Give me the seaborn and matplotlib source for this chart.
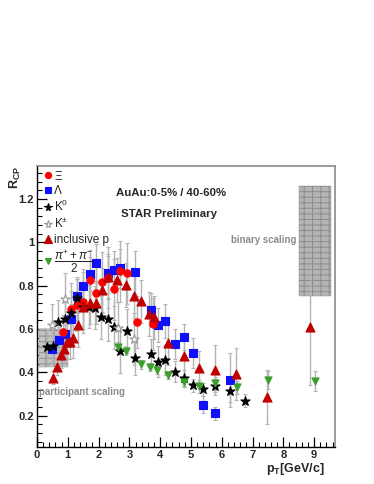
import matplotlib.pyplot as plt
import seaborn as sns
from matplotlib.patches import Rectangle
from matplotlib.lines import Line2D
from matplotlib.ticker import MultipleLocator, FixedLocator, FuncFormatter

# R_CP values (x = pT in GeV/c)
xi_pt = [0.85, 1.10, 1.31, 1.50, 1.71, 1.92, 2.11, 2.32, 2.51, 2.70, 2.91, 3.26, 3.77]
xi_r = [0.585, 0.69, 0.71, 0.723, 0.826, 0.765, 0.815, 0.837, 0.783, 0.866, 0.857, 0.63, 0.624]
xi_err = [0.08, 0.12, 0.12, 0.14, 0.14, 0.14, 0.14, 0.14, 0.14, 0.14, 0.14, 0.12, 0.12]

lam_pt = [0.50, 0.70, 0.90, 1.09, 1.31, 1.50, 1.71, 1.91, 2.32, 2.51, 2.70, 3.18,
          3.71, 3.92, 4.16, 4.47, 4.76, 5.07, 5.38, 5.77, 6.28]
lam_r = [0.506, 0.548, 0.575, 0.645, 0.752, 0.798, 0.853, 0.903, 0.857, 0.872, 0.88, 0.862,
         0.687, 0.618, 0.637, 0.53, 0.562, 0.49, 0.25, 0.212, 0.366]
lam_err = [0.06, 0.06, 0.06, 0.07, 0.08, 0.08, 0.08, 0.09, 0.09, 0.09, 0.09, 0.1,
           0.08, 0.08, 0.08, 0.07, 0.06, 0.07, 0.04, 0.03, 0.125]

k0_pt = [0.31, 0.51, 0.69, 0.90, 1.10, 1.31, 1.50, 1.70, 1.89, 2.09, 2.30, 2.50, 2.69,
         2.91, 3.18, 3.71, 3.92, 4.16, 4.47, 4.76, 5.07, 5.38, 5.77, 6.28, 6.77]
k0_r = [0.515, 0.521, 0.634, 0.645, 0.675, 0.742, 0.70, 0.703, 0.698, 0.654, 0.645, 0.608, 0.498,
        0.591, 0.466, 0.483, 0.449, 0.457, 0.403, 0.372, 0.339, 0.322, 0.337, 0.314, 0.269]
k0_err = [0.08, 0.08, 0.1, 0.1, 0.1, 0.1, 0.1, 0.1, 0.1, 0.1, 0.1, 0.1, 0.1,
          0.1, 0.08, 0.07, 0.07, 0.07, 0.05, 0.04, 0.03, 0.03, 0.03, 0.05, 0.03]

kch_pt = [0.48, 0.91, 2.64, 3.14]
kch_r = [0.616, 0.737, 0.605, 0.553]
kch_err = [0.1, 0.12, 0.12, 0.12]

p_pt = [0.53, 0.66, 0.77, 0.87, 0.96, 1.07, 1.18, 1.32, 1.50, 1.71, 1.91, 2.11, 2.32,
        2.61, 2.89, 3.15, 3.37, 3.65, 3.81, 4.24, 4.77, 5.26, 5.77, 6.46, 7.48, 8.86]
p_r = [0.375, 0.426, 0.48, 0.506, 0.541, 0.541, 0.557, 0.618, 0.70, 0.721, 0.721, 0.78, 0.838,
       0.826, 0.803, 0.752, 0.728, 0.669, 0.654, 0.534, 0.475, 0.418, 0.41, 0.392, 0.287, 0.61]
p_err = [0.03, 0.04, 0.06, 0.07, 0.08, 0.08, 0.09, 0.1, 0.1, 0.1, 0.1, 0.1, 0.1,
         0.1, 0.1, 0.1, 0.1, 0.1, 0.1, 0.1, 0.1, 0.08, 0.115, 0.12, 0.125, 0.27]

pi_pt = [2.64, 2.89, 3.38, 3.66, 3.89, 4.26, 4.76, 5.26, 5.77, 6.51, 7.51, 9.03]
pi_r = [0.518, 0.50, 0.436, 0.424, 0.41, 0.388, 0.357, 0.336, 0.349, 0.331, 0.365, 0.36]
pi_err = [0.02, 0.02, 0.02, 0.02, 0.02, 0.02, 0.02, 0.03, 0.03, 0.03, 0.04, 0.045]

# scaling bands: (x0, x1, y0, y1)
participant_band = (0.05, 1.0, 0.425, 0.6)
binary_band = (8.5, 9.55, 0.75, 1.26)

sns.set_style('ticks')
plt.rcParams['font.family'] = ['Liberation Sans', 'DejaVu Sans']
plt.rcParams['mathtext.fontset'] = 'custom'
plt.rcParams['mathtext.rm'] = 'Liberation Sans'
plt.rcParams['mathtext.it'] = 'Liberation Sans:italic'
plt.rcParams['mathtext.bf'] = 'Liberation Sans:bold'
plt.rcParams['hatch.linewidth'] = 0.7

fig = plt.figure(figsize=(3.74, 4.84), dpi=100)
ax = fig.add_axes([0.0989, 0.0764, 0.797, 0.5806])

for band, face in [(participant_band, '#c4c4c4'), (binary_band, '#b4b4b4')]:
    x0, x1, y0, y1 = band
    ax.add_patch(Rectangle((x0, y0), x1 - x0, y1 - y0, facecolor=face,
                           edgecolor='none', linewidth=0, zorder=1))
    ax.add_patch(Rectangle((x0, y0), x1 - x0, y1 - y0, facecolor='none',
                           edgecolor='#8c8c8c', hatch='---||', linewidth=0.3, zorder=1))

series = [
    (lam_pt, lam_r, lam_err, 's', '#1010ff', '#1010ff', 28, 'Λ'),
    (xi_pt, xi_r, xi_err, 'o', '#ff0000', '#ff0000', 28, 'Ξ'),
    (k0_pt, k0_r, k0_err, '*', 'black', 'black', 48, r'K$^{0}$'),
    (kch_pt, kch_r, kch_err, '*', 'white', '#9a9a9a', 48, r'K$^{\pm}$'),
    (p_pt, p_r, p_err, '^', '#c00000', '#c00000', 42, 'inclusive p'),
    (pi_pt, pi_r, pi_err, 'v', '#3aa02a', '#3aa02a', 26, r'$\dfrac{\pi^{+}+\pi^{-}}{2}$'),
]

for pt, r, err, mk, fc, ec, size, lab in series:
    ax.errorbar(pt, r, yerr=err, fmt='none', ecolor='#b4b4b4', elinewidth=1,
                capsize=1.5, capthick=0.8, zorder=2)
for pt, r, err, mk, fc, ec, size, lab in series:
    sns.scatterplot(x=pt, y=r, marker=mk, color=fc, edgecolor=ec, s=size,
                    linewidth=0.8, ax=ax, zorder=3, legend=False)

ax.set_xlim(0, 9.68)
ax.set_ylim(0.055, 1.352)
ax.xaxis.set_major_locator(MultipleLocator(1))
ax.xaxis.set_minor_locator(MultipleLocator(0.2))
ax.yaxis.set_major_locator(FixedLocator([0.2, 0.4, 0.6, 0.8, 1.0, 1.2]))
ax.yaxis.set_minor_locator(MultipleLocator(0.04))
ax.yaxis.set_major_formatter(FuncFormatter(lambda v, p: '%g' % round(v, 2)))
ax.tick_params(which='major', direction='in', length=7, width=0.9, labelsize=8, pad=2,
               color='black')
ax.tick_params(which='minor', direction='in', length=3.5, width=0.8, color='black')
for lbl in ax.get_xticklabels() + ax.get_yticklabels():
    lbl.set_fontweight('bold')
ax.set_xlabel('')
ax.set_ylabel('')

for side in ['left', 'bottom']:
    ax.spines[side].set_color('black')
    ax.spines[side].set_linewidth(1)
for side in ['top', 'right']:
    ax.spines[side].set_color('#8a8a8a')
    ax.spines[side].set_linewidth(1.2)

# legend in the order of the reference
order = [1, 0, 2, 3, 4, 5]
handles = []
labels = []
for i in order:
    pt, r, err, mk, fc, ec, size, lab = series[i]
    handles.append(Line2D([], [], linestyle='none', marker=mk, markerfacecolor=fc,
                          markeredgecolor=ec, markersize=size ** 0.5 * 0.85,
                          markeredgewidth=0.8))
    labels.append(lab)
ax.legend(handles, labels, loc='upper left', bbox_to_anchor=(0.02, 0.988),
          frameon=False, fontsize=8.5, handlelength=0.7, handletextpad=0.15,
          labelspacing=0.2, borderpad=0.1, borderaxespad=0)

ax.text(0.449, 0.904, 'AuAu:0-5% / 40-60%', transform=ax.transAxes, ha='center',
        va='center', fontsize=8.2, fontweight='bold')
ax.text(0.442, 0.829, 'STAR Preliminary', transform=ax.transAxes, ha='center',
        va='center', fontsize=8.2, fontweight='bold')
ax.text(0.871, 0.737, 'binary scaling', transform=ax.transAxes, ha='right',
        va='center', fontsize=7, fontweight='bold', color='#8c8c8c')
ax.text(0.008, 0.197, 'participant scaling', transform=ax.transAxes, ha='left',
        va='center', fontsize=7, fontweight='bold', color='#8c8c8c')

fig.text(0.04, 0.657, r'R$_{\mathbf{CP}}$', rotation=90, ha='center', va='top',
         fontsize=9, fontweight='bold')
fig.text(0.869, 0.031, r'p$_{\mathbf{T}}$[GeV/c]', ha='right', va='center',
         fontsize=9, fontweight='bold')

fig.savefig('out.png', dpi=100)
